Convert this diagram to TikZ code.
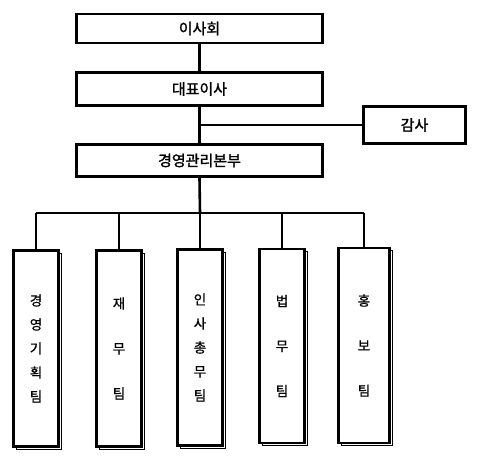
\documentclass[tikz,border=0pt]{standalone}
\usepackage{fontspec}
\setmainfont{Noto Sans CJK KR}
\newfontfamily\krtop[FakeBold=1.6]{Noto Sans CJK KR}
\newfontfamily\krteam[FakeBold=0.8]{Noto Sans CJK KR}
\usetikzlibrary{shadows}

\begin{document}
\begin{tikzpicture}[x=1pt, y=-1pt,
    line width=2.6pt,
    topbox/.style={draw, fill=white, inner sep=0pt, minimum height=31pt,
      font=\krtop\fontsize{15}{17}\selectfont},
    team/.style={draw, fill=white, inner sep=0pt, minimum width=45pt, minimum height=196pt,
      align=center, font=\krteam\fontsize{13.5}{#1}\selectfont,
      general shadow={shadow xshift=2.5pt, shadow yshift=-2.5pt, draw=black, fill=white, line width=0.7pt}},
    team/.default=24pt]
    \useasboundingbox (0,0) rectangle (480,460);

    % Upper boxes
    \node[topbox, minimum width=246pt, minimum height=29pt] (board) at (199.5,28.5) {이사회};
    \node[topbox, minimum width=246pt, minimum height=33pt] (ceo) at (199.5,89) {대표이사};
    \node[topbox, minimum width=246pt, minimum height=32pt] (hq) at (199.5,160.5) {경영관리본부};
    \node[topbox, minimum width=102pt, minimum height=37pt] (audit) at (414.5,125) {감사};

    % Teams
    \node[team] (plan) at (36,348.5) {경\\영\\기\\획\\팀};
    \node[team=45pt] (fin) at (119,348.5) {재\\무\\팀};
    \node[team] (hr) at (200,347.5) {인\\사\\총\\무\\팀};
    \node[team=45pt, minimum height=194pt] (law) at (282,346) {법\\무\\팀};
    \node[team=45pt, minimum height=195pt, minimum width=51pt] (pr) at (364,345.5) {홍\\보\\팀};

    % Lines
    \coordinate (bus) at (200,213);
    \draw (board) -- (ceo);
    \draw (ceo) -- (hq);
    \draw (ceo.south |- audit.west) -- (audit.west);
    \draw (hq.south) -- (bus);
    \draw (plan.north |- bus) -- (pr.north |- bus);
    \foreach \t in {plan, fin, hr, law, pr}
      \draw (\t.north) -- (\t.north |- bus);
\end{tikzpicture}
\end{document}
